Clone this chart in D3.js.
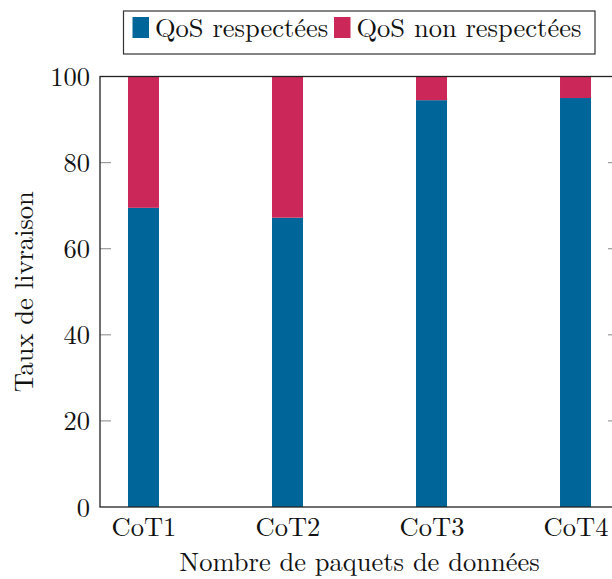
<!DOCTYPE html>
<html>
<head>
<meta charset="utf-8">
<script src="https://cdn.jsdelivr.net/npm/d3@7/dist/d3.min.js"></script>
<style>
  html, body { margin: 0; padding: 0; background: #fff; }
  svg { display: block; }
</style>
</head>
<body>
<svg id="chart" width="612" height="579"></svg>
<script>
// Delivery rate per CoT, split into QoS met / not met (percent)
const categories = ["CoT1", "CoT2", "CoT3", "CoT4"];
const qosMet = [69.5, 67.2, 94.5, 95.0];
const qosNotMet = [30.5, 32.8, 5.5, 5.0];
const yTicks = [0, 20, 40, 60, 80, 100];
const seriesNames = ["QoS respectées", "QoS non respectées"];
const seriesColors = ["#006699", "#cc2759"];

const plot = { left: 100, right: 619, top: 76.5, bottom: 507 };
const fontFamily = "'Latin Modern Roman', 'Liberation Serif', monospace";
const fontSize = 26.5;

const svg = d3.select("#chart");

function styleText(sel) {
  return sel
    .attr("font-family", fontFamily)
    .attr("font-size", fontSize)
    .attr("fill", "#111");
}

const x = d3.scalePoint()
  .domain(categories)
  .range([plot.left, plot.right])
  .padding(0.302);

const y = d3.scaleLinear()
  .domain([0, 100])
  .range([plot.bottom, plot.top]);

const barWidth = 31;

// Stack the two series
const rows = categories.map((c, i) => ({ cat: c, met: qosMet[i], notMet: qosNotMet[i] }));
const layers = d3.stack().keys(["met", "notMet"])(rows);

svg.append("g")
  .selectAll("g.layer")
  .data(layers)
  .join("g")
  .attr("class", "layer")
  .attr("fill", (d, i) => seriesColors[i])
  .selectAll("rect")
  .data(d => d)
  .join("rect")
  .attr("x", d => x(d.data.cat) - barWidth / 2)
  .attr("width", barWidth)
  .attr("y", d => y(d[1]))
  .attr("height", d => y(d[0]) - y(d[1]));

// Inward ticks on left and right
const tickLen = 11;
const tickG = svg.append("g").attr("stroke", "#9a9a9a").attr("stroke-width", 1.2);
yTicks.filter(t => t > 0 && t < 100).forEach(t => {
  tickG.append("line")
    .attr("x1", plot.left).attr("x2", plot.left + tickLen)
    .attr("y1", y(t)).attr("y2", y(t));
  tickG.append("line")
    .attr("x1", plot.right - tickLen).attr("x2", plot.right)
    .attr("y1", y(t)).attr("y2", y(t));
});

// Axis frame
svg.append("rect")
  .attr("x", plot.left)
  .attr("y", plot.top)
  .attr("width", plot.right - plot.left)
  .attr("height", plot.bottom - plot.top)
  .attr("fill", "none")
  .attr("stroke", "#222")
  .attr("stroke-width", 1.3);

// Y tick labels
const yAxisG = svg.append("g")
  .attr("transform", `translate(${plot.left},0)`)
  .call(d3.axisLeft(y).tickValues(yTicks).tickSize(0).tickPadding(10));
yAxisG.select(".domain").remove();
styleText(yAxisG);
styleText(yAxisG.selectAll("text")).attr("dy", "0.34em");

// X tick labels
const xAxisG = svg.append("g")
  .attr("transform", `translate(0,${plot.bottom})`)
  .call(d3.axisBottom(x).tickSize(0).tickPadding(10));
xAxisG.select(".domain").remove();
styleText(xAxisG);
styleText(xAxisG.selectAll("text")).attr("dy", "0.72em");

// Axis titles
styleText(svg.append("text"))
  .attr("x", (plot.left + plot.right) / 2)
  .attr("y", 571)
  .attr("text-anchor", "middle")
  .text("Nombre de paquets de données");

styleText(svg.append("text"))
  .attr("transform", `translate(33,${(plot.top + plot.bottom) / 2}) rotate(-90)`)
  .attr("text-anchor", "middle")
  .text("Taux de livraison");

// Legend
const legend = svg.append("g");
legend.append("rect")
  .attr("x", 123.5).attr("y", 11)
  .attr("width", 471.5).attr("height", 43)
  .attr("fill", "#fff")
  .attr("stroke", "#333")
  .attr("stroke-width", 1.2);

const legendItems = [
  { swatchX: 132.5, textX: 155 },
  { swatchX: 334, textX: 356.5 }
];
legendItems.forEach((it, i) => {
  legend.append("rect")
    .attr("x", it.swatchX).attr("y", 17)
    .attr("width", 16.5).attr("height", 21)
    .attr("fill", seriesColors[i]);
  styleText(legend.append("text"))
    .attr("x", it.textX).attr("y", 37)
    .text(seriesNames[i]);
});
</script>
</body>
</html>
